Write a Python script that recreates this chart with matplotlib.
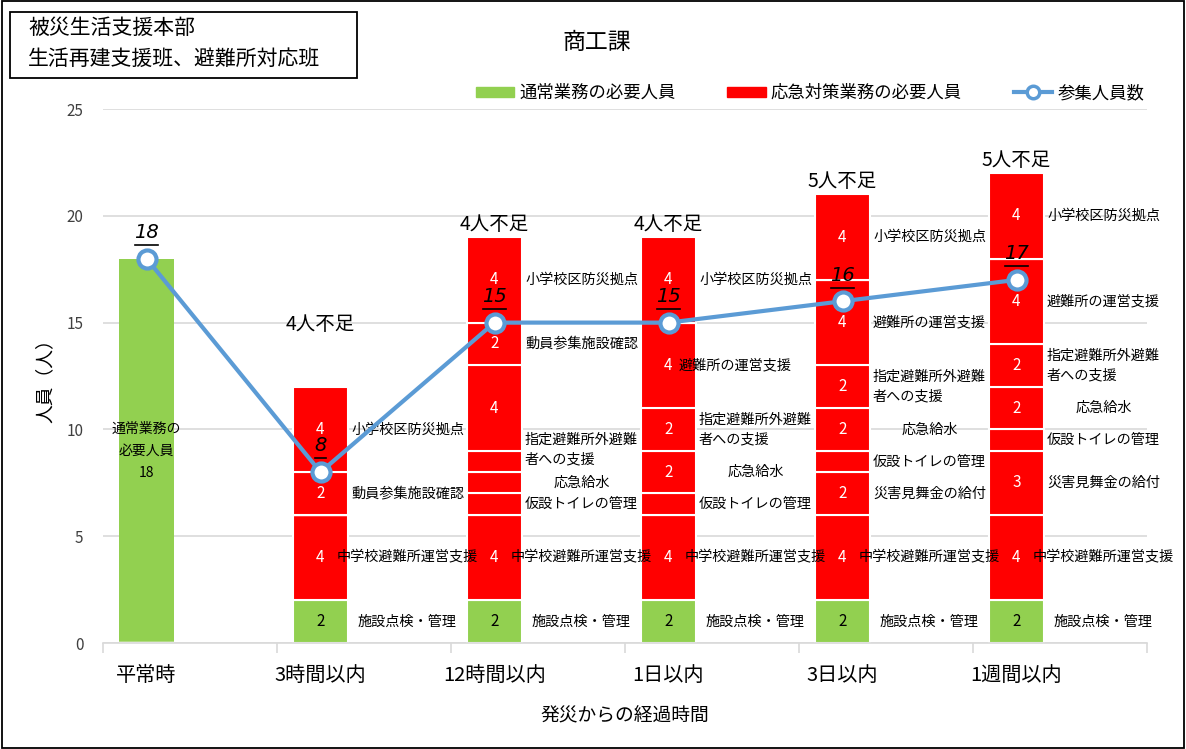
import matplotlib

matplotlib.use("Agg")
import matplotlib.pyplot as plt
import numpy as np
from matplotlib.lines import Line2D
from matplotlib.patches import Patch, Rectangle

plt.rcParams["font.family"] = ["Noto Sans CJK JP", "DejaVu Sans"]

GREEN = "#92D050"
RED = "#FF0000"
BLUE = "#5B9BD5"
GRID = "#D9D9D9"

categories = ["平常時", "3時間以内", "12時間以内", "1日以内", "3日以内", "1週間以内"]
normal_staff = [18, 0, 0, 0, 0, 0]
attendance = [18, 8, 15, 15, 16, 17]
shortage = ["", "4人不足", "4人不足", "4人不足", "5人不足", "5人不足"]

# emergency tasks, stacked bottom -> top
facility = [0, 2, 2, 2, 2, 2]
junior_high = [0, 4, 4, 4, 4, 4]
relief_money = [0, 0, 0, 0, 2, 3]
toilets = [0, 0, 1, 1, 1, 1]
water = [0, 0, 1, 2, 2, 2]
outside_evac = [0, 0, 1, 2, 2, 2]
shelter_ops = [0, 0, 4, 4, 4, 4]
mobilization = [0, 2, 2, 0, 0, 0]
school_base = [0, 4, 4, 4, 4, 4]

tasks = [
    ("施設点検・管理", facility, GREEN),
    ("中学校避難所運営支援", junior_high, RED),
    ("災害見舞金の給付", relief_money, RED),
    ("仮設トイレの管理", toilets, RED),
    ("応急給水", water, RED),
    ("指定避難所外避難\n者への支援", outside_evac, RED),
    ("避難所の運営支援", shelter_ops, RED),
    ("動員参集施設確認", mobilization, RED),
    ("小学校区防災拠点", school_base, RED),
]
unlabeled = {("避難所の運営支援", 2)}  # no side label in the original

# hand nudges of side labels as in the original (dx in categories, dy in persons)
label_nudge = {
    ("指定避難所外避難\n者への支援", 2): (0.0, 0.55),
    ("避難所の運営支援", 3): (-0.12, 0.0),
}

# label anchor heights for the shortage notes (bottom of text)
shortage_y = [0, 14.4, 19.1, 19.1, 21.1, 22.1]

fig = plt.figure(figsize=(11.86, 7.49), dpi=100)
ax = fig.add_axes([103 / 1186, 1 - 643 / 749, (1147 - 103) / 1186, (643 - 109) / 749])

x = np.arange(len(categories))
width = 0.32

ax.bar(x, normal_staff, width, color=GREEN, zorder=2)
ax.text(0, 9, "通常業務の\n必要人員\n18", ha="center", va="center", fontsize=10,
        linespacing=1.75, zorder=5)

bottom = np.zeros(len(categories))
for name, vals, color in tasks:
    vals = np.array(vals, dtype=float)
    ax.bar(x, vals, width, bottom=bottom, color=color, edgecolor="white", linewidth=1.5, zorder=2)
    for i, v in enumerate(vals):
        if v <= 0:
            continue
        mid = bottom[i] + v / 2
        if v >= 2:
            ax.text(i, mid, f"{int(v)}", ha="center", va="center", fontsize=11,
                    color="black" if color == GREEN else "white", zorder=5)
        if (name, i) not in unlabeled:
            dx, dy = label_nudge.get((name, i), (0.0, 0.0))
            ax.text(i + 0.5 + dx, mid + dy, name, ha="center", va="center", fontsize=10.2,
                    multialignment="left", linespacing=1.55, zorder=5)
    bottom += vals

for i, s in enumerate(shortage):
    if s:
        ax.text(i, shortage_y[i], s, ha="center", va="bottom", fontsize=14)

ax.plot(x, attendance, color=BLUE, lw=3, marker="o", ms=13, mfc="white", mec=BLUE,
        mew=3, zorder=6)
value_texts = []
for i, v in enumerate(attendance):
    t = ax.annotate(f"{v}", (i, v), xytext=(0, 12), textcoords="offset points",
                    ha="center", va="bottom", fontsize=14, style="italic",
                    family="DejaVu Sans", zorder=7)
    value_texts.append(t)

ax.set_xlim(-0.25, 5.75)
ax.set_ylim(0, 25)
ax.set_yticks(range(0, 26, 5))
ax.set_xticks(x, categories)
ax.set_xticks(np.arange(-0.25, 6, 1), minor=True)
ax.tick_params(axis="x", which="major", length=0, pad=16, labelsize=14.5)
ax.tick_params(axis="x", which="minor", length=7, color=GRID, width=1.2)
ax.tick_params(axis="y", length=0, pad=14, labelsize=11, labelcolor="#404040")
ax.grid(axis="y", color=GRID, lw=1.2, zorder=0)
ax.set_axisbelow(True)
for side in ("top", "right", "left"):
    ax.spines[side].set_visible(False)
ax.spines["bottom"].set_color(GRID)
ax.spines["bottom"].set_linewidth(1.2)
ax.set_xlabel("発災からの経過時間", fontsize=13.5, labelpad=14)
ax.set_ylabel("人員（人）", fontsize=13.5, labelpad=8)

handles = [
    Patch(color=GREEN, label="通常業務の必要人員"),
    Patch(color=RED, label="応急対策業務の必要人員"),
    Line2D([], [], color=BLUE, lw=3, marker="o", ms=9, mfc="white", mec=BLUE, mew=2.5,
           label="参集人員数"),
]
fig.legend(handles=handles, loc="center", bbox_to_anchor=(810 / 1186, 1 - 93 / 749), ncol=3,
           frameon=False, fontsize=12.5, handlelength=2.2, handleheight=0.55,
           handletextpad=0.3, columnspacing=3.0)

fig.text(597 / 1186, 1 - 42 / 749, "商工課", ha="center", va="center", fontsize=16.5)

# header box
fig.add_artist(Rectangle((10 / 1186, 1 - 78 / 749), 347 / 1186, 66 / 749,
                         transform=fig.transFigure, fill=False, ec="black", lw=1.3))
fig.text(28 / 1186, 1 - 28 / 749, "被災生活支援本部", ha="left", va="center", fontsize=15)
fig.text(28 / 1186, 1 - 59 / 749, "生活再建支援班、避難所対応班", ha="left", va="center",
         fontsize=15)

# outer frame
fig.add_artist(Rectangle((0.002, 0.002), 0.996, 0.996, transform=fig.transFigure,
                         fill=False, ec="black", lw=1.3))

# underline the attendance values, just below the digits
fig.canvas.draw()
renderer = fig.canvas.get_renderer()
inv = fig.transFigure.inverted()
for t in value_texts:
    bb = t.get_window_extent(renderer)
    (x0, y0), (x1, _) = inv.transform([(bb.x0 + 1, bb.y0 - 3), (bb.x1 - 1, bb.y0 - 3)])
    fig.add_artist(Line2D([x0, x1], [y0, y0], transform=fig.transFigure, color="black",
                          lw=1.2, zorder=8))

fig.savefig("out.png", dpi=100)
